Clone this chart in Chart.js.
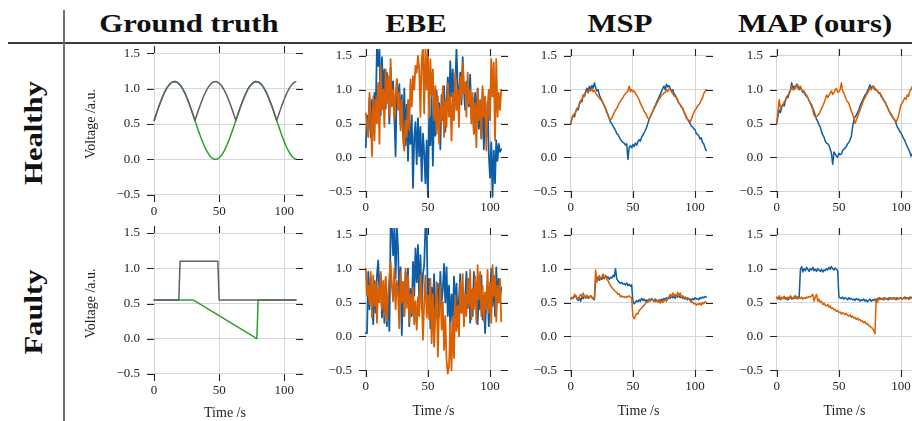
<!DOCTYPE html>
<html><head><meta charset="utf-8">
<script src="https://cdn.jsdelivr.net/npm/chart.js@4.4.0/dist/chart.umd.min.js"></script>
<style>
html,body{margin:0;padding:0;background:#fff;}
#fig{position:relative;width:912px;height:421px;overflow:hidden;background:#fff;}
canvas{position:absolute;}
.hdr{position:absolute;font-family:"Liberation Serif",serif;font-weight:bold;font-size:26px;line-height:26px;white-space:nowrap;color:#111;}
</style></head><body>
<div id="fig">
<div style="position:absolute;left:8px;top:42px;width:904px;height:1.5px;background:#3c3c3c"></div>
<div style="position:absolute;left:63px;top:10px;width:1.5px;height:411px;background:#707070"></div>
</div>
<script>
// ---------- data ----------
const columnTitles = ["Ground truth", "EBE", "MSP", "MAP (ours)"];
const rowTitles = ["Healthy", "Faulty"];
const xAxisTitle = "Time /s";
const yAxisTitle = "Voltage /a.u.";
const xTickValues = [0, 50, 100];
const xTickLabels = ["0", "50", "100"];
const yTickValues = [-0.5, 0, 0.5, 1.0, 1.5];
const yTickLabels = ["\u22120.5", "0.0", "0.5", "1.0", "1.5"];

const time = [0,1,2,3,4,5,6,7,8,9,10,11,12,13,14,15,16,17,18,19,20,21,22,23,24,25,26,27,28,29,
30,31,32,33,34,35,36,37,38,39,40,41,42,43,44,45,46,47,48,49,50,51,52,53,54,55,56,57,58,59,
60,61,62,63,64,65,66,67,68,69,70,71,72,73,74,75,76,77,78,79,80,81,82,83,84,85,86,87,88,89,
90,91,92,93,94,95,96,97,98,99,100,101,102,103,104,105,106,107,108,109];

// ground truth, healthy
const gtHealthyTime = [0,2,4,6,8,10,12,14,16,18,20,22,24,26,28,30,31.4,32,34,36,38,40,42,44,46,48,50,52,54,56,58,60,62,62.8,64,66,68,70,72,74,76,78,80,82,84,86,88,90,92,94.2,96,98,100,102,104,106,108,109];
const gtHealthyGreen = [.550,.659,.764,.861,.945,1.013,1.063,1.092,1.100,1.086,1.050,.995,.922,.834,.734,.628,.550,
.518,.409,.307,.213,.134,.071,.027,.003,.002,.023,.064,.125,.203,.294,.396,.504,.550,
.614,.721,.822,.911,.987,1.044,1.082,1.099,1.094,1.067,1.020,.954,.872,.777,.673,.550,
.454,.348,.251,.165,.095,.042,.010,.003];
const gtHealthyGray = [.550,.659,.764,.861,.945,1.013,1.063,1.092,1.100,1.086,1.050,.995,.922,.834,.734,.628,.550,
.582,.691,.793,.887,.966,1.029,1.073,1.097,1.098,1.077,1.036,.975,.897,.806,.704,.596,.550,
.614,.721,.822,.911,.987,1.044,1.082,1.099,1.094,1.067,1.020,.954,.872,.777,.673,.550,
.646,.752,.849,.935,1.005,1.058,1.090,1.097];
// ground truth, faulty
const gtFaultyGrayTime = [0,19,20,49,50,109];
const gtFaultyGray = [.55,.55,1.10,1.10,.55,.55];
const gtFaultyGreenTime = [0,30,79,80,109];
const gtFaultyGreen = [.55,.55,0.0,.55,.55];

const ebeHealthyBlue = [.15,.62,.40,.88,.30,.85,.55,.95,.70,1.62,
1.35,1.62,.62,1.48,.95,1.30,.72,1.25,.98,.50,
1.32,.88,1.12,.62,.02,1.15,.78,1.08,.48,.92,
.30,1.02,.18,.78,-.05,.55,.20,.62,-.45,.30,
.52,-.10,.58,.02,.45,-.35,.35,.08,-.38,.25,
-.58,.62,.18,.88,-.12,.75,.32,.98,.45,.80,
.12,.92,.55,1.05,.38,.85,1.18,.70,1.42,.90,
1.30,.62,1.05,1.62,1.00,.85,1.25,.78,1.48,.98,
.70,1.12,.90,.75,1.22,.58,.88,.35,.95,.50,
1.02,.42,.72,.28,.98,.12,.65,.30,.82,.05,
-.30,.22,-.58,.10,-.38,.25,-.05,.20,.08,.12];
const ebeHealthyOrange = [.65,.50,.30,.95,.60,.02,.90,.25,.85,.50,
1.10,.20,1.35,.70,1.00,.45,1.30,.80,1.20,.60,
1.45,.75,1.00,.55,.90,1.15,.70,.95,.40,.85,
.25,.10,.55,.30,.85,.40,1.15,.75,1.20,1.00,
1.35,1.25,1.50,1.30,.60,1.45,1.62,.65,1.62,1.00,
1.62,.60,1.45,.90,1.30,.55,1.05,.35,.90,.20,
.75,.55,1.05,.30,.85,.45,1.10,.60,.90,.25,
.95,.55,1.25,.70,1.00,.45,1.20,.85,1.40,.95,
1.10,.60,1.25,.80,1.00,.50,.95,.35,.80,.15,
1.00,.55,.85,.30,1.05,.60,.90,.10,.75,1.00,
.55,1.45,.90,1.40,.25,1.45,.60,.95,.70,1.00];
const ebeFaultyBlue = [.05,.05,.95,.40,.88,.50,.18,.82,.35,.90,
1.12,.62,.92,.28,.78,.20,.85,.15,.62,.08,
1.62,1.62,1.20,1.62,.85,1.62,1.30,.50,1.02,.02,
.80,.30,.95,.60,1.00,.15,.70,.30,1.10,.60,
1.30,.80,1.35,.50,1.20,.40,.92,1.05,1.62,1.62,
.35,.85,.12,.72,.45,.92,.22,.62,.78,.30,
.95,.48,.70,1.07,.50,1.02,.30,.75,.12,.62,
.22,.88,.40,.78,.15,.55,.92,.35,.70,.25,
.58,.95,.42,.85,.20,.68,.30,.95,.55,.78,
.18,.65,.40,.90,.25,.60,.05,.55,.72,.15,
.60,1.00,.45,.88,.30,1.02,.50,.85,.55,.72];
const ebeFaultyOrange = [1.00,.60,.75,.48,.95,.28,.90,.45,.80,.20,
.72,.50,.95,.40,.82,.30,.88,.22,.62,.90,
1.10,.75,.52,1.00,.40,.82,.60,.12,.95,.50,
.80,.30,1.00,.42,.90,.20,.62,.35,.72,.18,
.52,.10,.58,.30,.90,.60,-.05,.50,.90,.28,
.60,.25,.85,-.10,.62,-.15,.30,.80,-.30,.40,
.75,.10,.50,-.20,.30,-.35,-.55,-.45,.20,-.50,
.30,-.32,.60,.08,.45,.00,.80,.35,.92,.15,
.62,.30,.85,.45,.98,.25,.70,.40,.88,.20,
1.05,.55,.95,.30,.75,.22,.65,.40,.98,.35,
.80,.20,1.05,.60,.90,.22,.75,.50,.85,.22];

const mspHealthyBlue = [.50,.58,.62,.60,.68,.72,.70,.80,.84,.82,
.92,.90,.98,1.02,.97,1.05,1.00,1.06,1.02,1.10,
1.03,.98,1.00,.92,.88,.84,.80,.76,.72,.66,
.63,.57,.52,.50,.46,.43,.40,.35,.34,.30,
.26,.24,.22,.21,.18,.20,-.03,.15,.17,.14,
.19,.16,.21,.18,.23,.26,.24,.30,.33,.36,
.40,.44,.50,.56,.60,.64,.68,.73,.76,.81,
.85,.89,.93,.97,1.02,1.05,1.00,1.08,1.04,1.06,
1.02,.98,1.00,.94,.92,.88,.85,.80,.78,.74,
.73,.67,.64,.58,.56,.53,.50,.46,.45,.42,
.41,.35,.34,.32,.27,.29,.22,.20,.14,.10];
const mspHealthyOrange = [.50,.58,.63,.64,.67,.72,.74,.78,.82,.86,
.92,.90,.96,.98,.95,1.00,.98,1.02,.97,.99,
.95,.92,.90,.88,.85,.84,.80,.76,.72,.68,
.62,.58,.55,.58,.62,.66,.70,.72,.76,.80,
.83,.86,.88,.92,.94,.96,.98,1.05,.97,1.00,
.97,.98,.95,.92,.89,.85,.80,.76,.73,.68,
.66,.62,.58,.56,.60,.64,.68,.72,.75,.79,
.82,.86,.88,.92,.93,.95,.96,1.00,.97,1.01,
1.00,.97,.94,.91,.90,.88,.84,.80,.78,.75,
.72,.68,.64,.60,.56,.55,.52,.56,.62,.66,
.70,.72,.76,.78,.80,.85,.88,.94,.97,1.00];
const mspFaultyBlue = [.55,.57,.56,.59,.60,.55,.53,.57,.52,.58,
.56,.60,.57,.59,.56,.58,.60,.57,.56,.54,
.82,.88,.85,.83,.87,.84,.88,.85,.90,.86,
.88,.84,.87,.86,.90,.88,1.00,.85,.82,.80,
.78,.80,.77,.78,.76,.79,.75,.77,.74,.76,
.52,.48,.50,.53,.51,.54,.52,.56,.53,.55,
.52,.54,.51,.55,.53,.56,.54,.52,.55,.53,
.51,.54,.52,.55,.53,.56,.54,.57,.55,.58,
.56,.60,.57,.59,.56,.60,.58,.61,.57,.59,
.56,.58,.55,.57,.54,.56,.55,.53,.56,.54,
.57,.55,.56,.54,.57,.56,.58,.57,.59,.58];
const mspFaultyOrange = [.55,.58,.56,.62,.60,.57,.55,.59,.62,.58,
.64,.60,.56,.61,.58,.57,.60,.58,.57,.56,
.98,.80,.85,.90,.84,.88,.92,.86,.90,.84,
.82,.78,.75,.72,.70,.68,.66,.65,.62,.63,
.58,.60,.58,.59,.57,.59,.58,.60,.58,.57,
.30,.26,.30,.34,.33,.38,.40,.42,.44,.46,
.48,.51,.50,.54,.52,.55,.53,.52,.51,.54,
.50,.52,.49,.53,.50,.52,.54,.52,.56,.58,
.62,.58,.64,.60,.62,.58,.65,.60,.64,.58,
.60,.57,.58,.56,.57,.55,.53,.50,.51,.48,
.49,.46,.48,.47,.49,.46,.50,.48,.51,.50];

const mapHealthyBlue = [.50,.62,.70,.66,.74,.78,.76,.84,.90,.88,
.95,1.00,1.10,1.02,1.05,1.02,1.08,1.06,1.00,1.04,
1.00,.96,.97,.92,.90,.88,.84,.80,.78,.72,
.68,.62,.56,.53,.48,.45,.38,.33,.30,.24,
.21,.20,.18,.12,.06,-.10,.08,.05,.02,.00,
.06,.04,.05,.10,.12,.14,.16,.20,.22,.26,
.31,.45,.55,.60,.62,.66,.70,.76,.80,.84,
.88,.92,.94,.98,1.02,1.07,1.02,1.05,1.03,1.00,
1.00,.98,.95,.95,.90,.88,.84,.82,.78,.74,
.70,.66,.64,.60,.57,.55,.50,.45,.42,.38,
.36,.32,.28,.25,.20,.16,.12,.08,.02,.05];
const mapHealthyOrange = [.50,.70,.85,.72,.76,.78,.82,.85,.88,.92,
.95,.98,1.05,1.00,1.00,1.04,1.08,1.02,1.02,1.05,
1.00,.98,.98,.94,.92,.88,.84,.80,.75,.70,
.62,.60,.60,.62,.64,.68,.72,.76,.80,.86,
.92,.88,.92,.95,.98,.93,.95,1.00,1.02,.96,
.97,1.00,1.10,.98,.95,.90,.85,.82,.80,.74,
.68,.64,.58,.50,.55,.60,.65,.70,.75,.80,
.85,.88,.92,.95,.98,1.02,1.00,1.04,1.05,1.02,
1.00,.98,.96,.95,.92,.88,.85,.82,.78,.74,
.70,.66,.62,.60,.57,.55,.52,.56,.62,.70,
.78,.80,.84,.88,.86,.92,.90,.98,1.00,1.05];
const mapFaultyBlue = [.57,.55,.58,.54,.57,.56,.58,.55,.57,.54,
.56,.58,.55,.57,.56,.60,.56,.58,.57,.98,
1.03,.95,1.00,.97,1.02,.99,.96,1.00,.98,1.02,
.97,.99,.96,1.00,.98,.96,.99,.95,.98,.97,
1.00,.98,1.02,.99,1.03,1.00,.98,1.01,.99,.97,
.58,.57,.56,.58,.55,.57,.56,.54,.57,.55,
.56,.54,.55,.53,.56,.54,.55,.52,.54,.53,
.55,.52,.54,.51,.53,.55,.52,.54,.53,.55,
.52,.56,.55,.57,.55,.56,.54,.57,.55,.56,
.54,.57,.56,.55,.57,.56,.54,.57,.55,.56,
.57,.55,.56,.58,.56,.57,.55,.58,.57,.58];
const mapFaultyOrange = [.58,.56,.60,.55,.58,.56,.59,.57,.55,.58,
.56,.60,.57,.55,.59,.56,.58,.55,.57,.56,
.58,.55,.57,.56,.58,.57,.59,.58,.60,.62,
.52,.58,.62,.52,.55,.50,.52,.47,.49,.46,
.45,.47,.43,.45,.41,.42,.39,.40,.37,.38,
.35,.36,.33,.35,.34,.32,.34,.31,.30,.32,
.28,.30,.27,.28,.25,.27,.24,.25,.22,.23,
.20,.22,.18,.19,.16,.15,.13,.12,.09,.04,
.55,.50,.57,.54,.56,.55,.57,.55,.56,.54,
.57,.56,.55,.57,.56,.55,.57,.56,.55,.57,
.56,.55,.57,.56,.55,.57,.56,.55,.57,.56];

// ---------- style ----------
const BLUE = '#0C5DA5', ORANGE = '#D95F02', GREEN = '#2CA02C', GRAY = '#606060';
const GRID = '#d6d6d6', TXT = '#222222';
const X_MIN = -5.45, X_MAX = 114.45, Y_MIN = -0.6, Y_MAX = 1.6;
const FONT = "'Liberation Serif', 'DejaVu Serif', serif";

const fig = document.getElementById('fig');

// headers
const colCenters = [189, 416, 620, 815];
columnTitles.forEach((t, i) => {
  const d = document.createElement('div');
  d.className = 'hdr'; d.textContent = t;
  d.style.left = colCenters[i] + 'px'; d.style.top = '24px';
  d.style.transform = 'translate(-50%,-50%) scaleX(1.18)';
  fig.appendChild(d);
});
const rowCenters = [133, 312];
rowTitles.forEach((t, i) => {
  const d = document.createElement('div');
  d.className = 'hdr'; d.textContent = t;
  d.style.left = '34px'; d.style.top = rowCenters[i] + 'px';
  d.style.transform = 'translate(-50%,-50%) rotate(-90deg) scaleX(1.18)';
  fig.appendChild(d);
});

const tickMarks = {
  id: 'tickMarks',
  afterDraw(chart) {
    const {ctx, chartArea: a, scales: {x, y}} = chart;
    const L = 7;
    ctx.save();
    ctx.strokeStyle = '#262626';
    ctx.lineWidth = 1.1;
    ctx.beginPath();
    x.ticks.forEach(t => {
      const p = Math.round(x.getPixelForValue(t.value)) + 0.5;
      ctx.moveTo(p, a.top); ctx.lineTo(p, a.top + L);
      ctx.moveTo(p, a.bottom); ctx.lineTo(p, a.bottom - L);
    });
    y.ticks.forEach(t => {
      const p = Math.round(y.getPixelForValue(t.value)) + 0.5;
      ctx.moveTo(a.left, p); ctx.lineTo(a.left + L, p);
      ctx.moveTo(a.right, p); ctx.lineTo(a.right - L, p);
    });
    ctx.stroke();
    ctx.restore();
  }
};

function series(t, v, color, w) {
  return {
    data: t.map((tt, i) => ({x: tt, y: v[i]})),
    borderColor: color, borderWidth: w, pointRadius: 0, tension: 0,
    fill: false, clip: 0, borderJoinStyle: 'round', borderCapStyle: 'round'
  };
}

function build(cfg) {
  const [L, T, R, B] = cfg.area;
  const padT = 4, padR = 4;
  const W = (R - L) + cfg.padL + padR, H = (B - T) + padT + cfg.padB;
  const cv = document.createElement('canvas');
  cv.width = W; cv.height = H;
  cv.style.left = (L - cfg.padL) + 'px'; cv.style.top = (T - padT) + 'px';
  cv.style.width = W + 'px'; cv.style.height = H + 'px';
  fig.appendChild(cv);
  const zero = s => { s.paddingLeft = 0; s.paddingRight = 0; s.paddingTop = 0; s.paddingBottom = 0; };
  new Chart(cv, {
    type: 'line',
    data: {datasets: cfg.series},
    options: {
      responsive: false, animation: false, devicePixelRatio: 1, events: [],
      layout: {padding: {top: padT, right: padR, left: 0, bottom: 0}},
      plugins: {legend: {display: false}, tooltip: {enabled: false}},
      scales: {
        x: {
          type: 'linear', min: X_MIN, max: X_MAX, bounds: 'data',
          afterBuildTicks: s => { s.ticks = xTickValues.map(v => ({value: v})); },
          afterFit: s => { s.height = cfg.padB; zero(s); },
          grid: {color: GRID, lineWidth: 1, drawTicks: false},
          border: {display: false},
          ticks: {padding: 2, color: TXT, font: {family: FONT, size: 13}, maxRotation: 0, autoSkip: false,
                  callback: (v, i) => xTickLabels[i]},
          title: {display: cfg.xTitle, text: xAxisTitle, color: TXT, font: {family: FONT, size: 14},
                  padding: {top: 0, bottom: 0}}
        },
        y: {
          type: 'linear', min: Y_MIN, max: Y_MAX, bounds: 'data',
          afterBuildTicks: s => { s.ticks = yTickValues.map(v => ({value: v})); },
          afterFit: s => { s.width = cfg.padL; zero(s); },
          grid: {color: GRID, lineWidth: 1, drawTicks: false},
          border: {display: false},
          ticks: {padding: 7, color: TXT, font: {family: FONT, size: 13}, autoSkip: false,
                  callback: (v, i) => yTickLabels[i]},
          title: {display: cfg.yTitle, text: yAxisTitle, color: TXT, font: {family: FONT, size: 14},
                  padding: {top: 13, bottom: 0}}
        }
      }
    },
    plugins: [tickMarks]
  });
}

const TW = 1.5, EW = 1.8, MW = 1.5;
const panels = [
  {area: [147, 46, 303, 202], padL: 77, padB: 26, yTitle: true, xTitle: false,
   series: [series(gtHealthyTime, gtHealthyGray, GRAY, TW), series(gtHealthyTime, gtHealthyGreen, GREEN, TW)]},
  {area: [359, 49, 508, 198], padL: 40, padB: 26, yTitle: false, xTitle: false,
   series: [series(time, ebeHealthyOrange, ORANGE, EW), series(time, ebeHealthyBlue, BLUE, EW)]},
  {area: [564, 49, 713, 198], padL: 40, padB: 26, yTitle: false, xTitle: false,
   series: [series(time, mspHealthyOrange, ORANGE, MW), series(time, mspHealthyBlue, BLUE, MW)]},
  {area: [770, 49, 919, 198], padL: 40, padB: 26, yTitle: false, xTitle: false,
   series: [series(time, mapHealthyOrange, ORANGE, MW), series(time, mapHealthyBlue, BLUE, MW)]},
  {area: [147, 226, 303, 381], padL: 77, padB: 41, yTitle: true, xTitle: true,
   series: [series(gtFaultyGrayTime, gtFaultyGray, GRAY, TW), series(gtFaultyGreenTime, gtFaultyGreen, GREEN, TW)]},
  {area: [359, 228, 508, 377], padL: 40, padB: 43, yTitle: false, xTitle: true,
   series: [series(time, ebeFaultyOrange, ORANGE, EW), series(time, ebeFaultyBlue, BLUE, EW)]},
  {area: [564, 228, 713, 377], padL: 40, padB: 43, yTitle: false, xTitle: true,
   series: [series(time, mspFaultyOrange, ORANGE, MW), series(time, mspFaultyBlue, BLUE, MW)]},
  {area: [770, 228, 919, 377], padL: 40, padB: 43, yTitle: false, xTitle: true,
   series: [series(time, mapFaultyOrange, ORANGE, MW), series(time, mapFaultyBlue, BLUE, MW)]}
];
panels.forEach(build);
</script>
</body></html>
